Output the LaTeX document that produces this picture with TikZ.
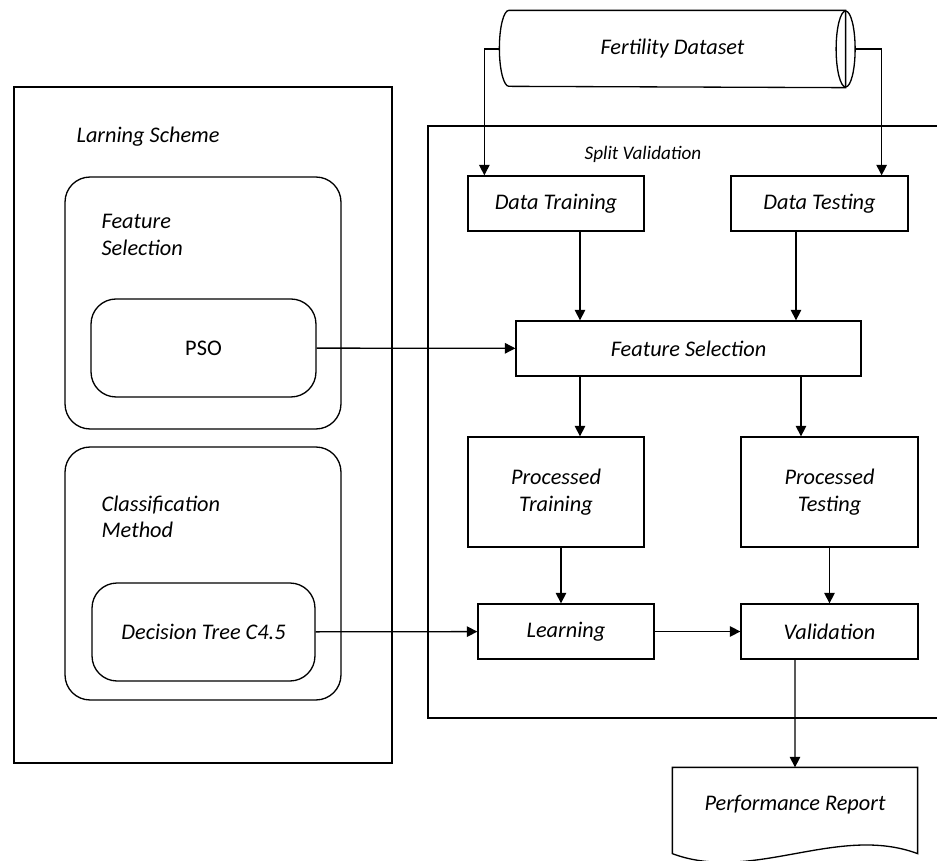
\documentclass[tikz,border=0pt]{standalone}
\usepackage{fontspec}
\setmainfont{Carlito}
\usetikzlibrary{arrows.meta}

\begin{document}
\begin{tikzpicture}[x=0.02cm, y=-0.02cm, line width=0.75pt,
    every node/.style={font=\fontsize{12.7}{15}\selectfont\itshape},
    block/.style={rectangle, draw, inner sep=0pt},
    rblock/.style={rectangle, draw, rounded corners=0.5cm, inner sep=0pt},
    grouptext/.style={align=left, anchor=west, inner sep=0pt},
    arr/.style={-{Triangle[length=6pt, width=6pt]}}]
      \useasboundingbox (0,0) rectangle (937,861);
      % learning scheme
      \node (scheme)[block, minimum width=7.56cm, minimum height=13.52cm] at (203, 425) {};
      \node (schemetxt)[grouptext] at (76, 137) {Larning Scheme};
      \node (fsgroup)[rblock, minimum width=5.52cm, minimum height=5.04cm] at (203, 303) {};
      \node (fsgrouptxt)[grouptext] at (101, 235) {Feature\\Selection};
      \node (pso)[rblock, minimum width=4.5cm, minimum height=1.96cm, font=\fontsize{12.7}{15}\selectfont] at (203.5, 348) {PSO};
      \node (clgroup)[rblock, minimum width=5.52cm, minimum height=5.06cm] at (203, 573.5) {};
      \node (clgrouptxt)[grouptext] at (101, 517) {Classification\\Method};
      \node (dtree)[rblock, minimum width=4.46cm, minimum height=1.96cm] at (203.5, 632) {Decision Tree C4.5};
      % split validation
      \draw (937, 126) -- (428, 126) -- (428, 718) -- (937, 718);
      \node (splittxt)[font=\fontsize{10.9}{13}\selectfont\itshape] at (643, 154) {Split Validation};
      % dataset drum
      \node (dataset)[minimum width=6.9cm, minimum height=1.52cm, inner sep=0pt] at (672.5, 49) {Fertility Dataset};
      \draw ([xshift=0.19cm]dataset.north west) arc[start angle=90, end angle=270, x radius=0.19cm, y radius=0.76cm]
        -- (dataset.south east) -- (dataset.north east) -- cycle;
      \draw (dataset.east) ellipse [x radius=0.19cm, y radius=0.76cm];
      \node (dtrain)[block, minimum width=3.52cm, minimum height=1.1cm] at (556, 203.5) {Data Training};
      \node (dtest)[block, minimum width=3.54cm, minimum height=1.1cm] at (819.5, 203.5) {Data Testing};
      \node (fsel)[block, minimum width=6.9cm, minimum height=1.1cm] at (688.5, 348.5) {Feature Selection};
      \node (ptrain)[block, minimum width=3.52cm, minimum height=2.2cm, align=center] at (556, 492) {Processed\\Training};
      \node (ptest)[block, minimum width=3.54cm, minimum height=2.2cm, align=center] at (829.5, 492) {Processed\\Testing};
      \node (learn)[block, minimum width=3.52cm, minimum height=1.1cm] at (566, 631.5) {Learning};
      \node (valid)[block, minimum width=3.54cm, minimum height=1.1cm] at (829.5, 631.5) {Validation};
      \node (report)[minimum width=4.88cm, minimum height=1.48cm, inner sep=0pt] at (795, 805) {Performance Report};
      \draw (report.north west) -- (report.north east) -- ([yshift=-0.22cm]report.south east)
        .. controls ([xshift=-1.6cm, yshift=0.38cm]report.south east) and ([xshift=1.6cm, yshift=-0.82cm]report.south west)
        .. ([yshift=-0.22cm]report.south west) -- cycle;
      % connectors
      \draw[arr] (dataset.west) -| ([xshift=0.34cm]dtrain.north west);
      \draw[arr] ([xshift=0.19cm]dataset.east) -| ([xshift=-0.54cm]dtest.north east);
      \draw[arr] ([xshift=0.48cm]dtrain.south) -- ([xshift=0.48cm]dtrain.south |- fsel.north);
      \draw[arr] ([xshift=-0.47cm]dtest.south) -- ([xshift=-0.47cm]dtest.south |- fsel.north);
      \draw[arr] ([xshift=0.48cm]ptrain.north |- fsel.south) -- ([xshift=0.48cm]ptrain.north);
      \draw[arr] ([xshift=-0.57cm]ptest.north |- fsel.south) -- ([xshift=-0.57cm]ptest.north);
      \draw[arr] ([xshift=0.1cm]ptrain.south) -- ([xshift=0.1cm]ptrain.south |- learn.north);
      \draw[arr] (ptest.south) -- (valid.north);
      \draw[arr] (learn) -- (valid);
      \draw[arr] (pso) -- (fsel);
      \draw[arr] (dtree) -- (learn);
      \draw[arr] ([xshift=-0.69cm]valid.south) -- (report.north);
    \end{tikzpicture}
\end{document}
